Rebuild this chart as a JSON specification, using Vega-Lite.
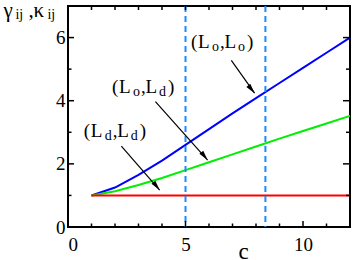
{
  "$schema": "https://vega.github.io/schema/vega-lite/v6.json",
  "width": 282,
  "height": 221,
  "autosize": {"type": "none"},
  "padding": {"left": 68, "top": 6, "right": 4, "bottom": 33},
  "config": {
    "view": {"stroke": "black", "strokeWidth": 2},
    "axis": {
      "domain": false,
      "grid": false,
      "ticks": false,
      "labelFont": "Liberation Serif",
      "labelFontSize": 19,
      "labelColor": "black",
      "titleFont": "Liberation Serif",
      "titleColor": "black",
      "titleFontWeight": "normal"
    },
    "text": {"font": "Liberation Serif", "fontSize": 19, "align": "left", "baseline": "alphabetic", "color": "black"},
    "tick": {"color": "black", "thickness": 1.5, "opacity": 1}
  },
  "datasets": {
    "curves": [
      {"series": "LoLo", "c": 1, "v": 1},
      {"series": "LoLo", "c": 2, "v": 1.25},
      {"series": "LoLo", "c": 3, "v": 1.65},
      {"series": "LoLo", "c": 4, "v": 2.1},
      {"series": "LoLo", "c": 5, "v": 2.6},
      {"series": "LoLo", "c": 6, "v": 3.1},
      {"series": "LoLo", "c": 7, "v": 3.6},
      {"series": "LoLo", "c": 8, "v": 4.08},
      {"series": "LoLo", "c": 9, "v": 4.56},
      {"series": "LoLo", "c": 10, "v": 5.04},
      {"series": "LoLo", "c": 11, "v": 5.52},
      {"series": "LoLo", "c": 12, "v": 6.0},
      {"series": "LoLd", "c": 1, "v": 1},
      {"series": "LoLd", "c": 2, "v": 1.13},
      {"series": "LoLd", "c": 3, "v": 1.33},
      {"series": "LoLd", "c": 4, "v": 1.55},
      {"series": "LoLd", "c": 5, "v": 1.8},
      {"series": "LoLd", "c": 6, "v": 2.05},
      {"series": "LoLd", "c": 7, "v": 2.3},
      {"series": "LoLd", "c": 8, "v": 2.55},
      {"series": "LoLd", "c": 9, "v": 2.8},
      {"series": "LoLd", "c": 10, "v": 3.04},
      {"series": "LoLd", "c": 11, "v": 3.28},
      {"series": "LoLd", "c": 12, "v": 3.52},
      {"series": "LdLd", "c": 1, "v": 1},
      {"series": "LdLd", "c": 12, "v": 1}
    ],
    "dashed": [{"c": 5}, {"c": 8.4}],
    "xmajor": [{"c": 5}, {"c": 10}],
    "xminor": [{"c": 1}, {"c": 2}, {"c": 3}, {"c": 4}, {"c": 6}, {"c": 7}, {"c": 8}, {"c": 9}, {"c": 11}],
    "ymajor": [{"v": 2}, {"v": 4}, {"v": 6}],
    "yminor": [{"v": 1}, {"v": 3}, {"v": 5}],
    "arrows": [
      {"x1": 6.95, "y1": 5.28, "x2": 7.94, "y2": 4.24},
      {"x1": 3.72, "y1": 3.97, "x2": 5.94, "y2": 2.12},
      {"x1": 2.27, "y1": 2.56, "x2": 3.9, "y2": 1.17}
    ],
    "labels": [
      {"x": 5.23, "y": 5.66, "s1": "o", "s2": "o"},
      {"x": 1.87, "y": 4.23, "s1": "o", "s2": "d"},
      {"x": 0.67, "y": 2.85, "s1": "d", "s2": "d"}
    ],
    "ytitle": [{"x": -2.75, "y": 6.66}]
  },
  "layer": [
    {
      "data": {"name": "curves"},
      "mark": {"type": "line", "strokeWidth": 2},
      "encoding": {
        "x": {
          "field": "c", "type": "quantitative",
          "scale": {"domain": [0, 12], "nice": false},
          "axis": {
            "orient": "bottom",
            "values": [0, 5, 10],
            "labelBaseline": "alphabetic",
            "labelPadding": 23,
            "title": "c",
            "titleFontSize": 23,
            "titleX": 175,
            "titleY": 31,
            "titleBaseline": "alphabetic",
            "titleAlign": "center"
          }
        },
        "y": {
          "field": "v", "type": "quantitative",
          "scale": {"domain": [0, 7], "nice": false},
          "axis": {
            "orient": "left",
            "values": [0, 2, 4, 6],
            "labelPadding": 3,
            "title": null
          }
        },
        "color": {
          "field": "series", "type": "nominal",
          "scale": {"domain": ["LoLo", "LoLd", "LdLd"], "range": ["#0000ff", "#00ee00", "#ff0000"]},
          "legend": null
        }
      }
    },
    {
      "data": {"name": "dashed"},
      "mark": {"type": "rule", "color": "#1a8cff", "strokeWidth": 2, "strokeDash": [6, 4]},
      "encoding": {
        "x": {"field": "c", "type": "quantitative", "scale": {"domain": [0, 12], "nice": false}}
      }
    },
    {
      "data": {"name": "xmajor"},
      "mark": {"type": "tick", "orient": "vertical", "size": 6, "yOffset": -3},
      "encoding": {
        "x": {"field": "c", "type": "quantitative", "scale": {"domain": [0, 12], "nice": false}},
        "y": {"datum": 0, "type": "quantitative", "scale": {"domain": [0, 7], "nice": false}}
      }
    },
    {
      "data": {"name": "xminor"},
      "mark": {"type": "tick", "orient": "vertical", "size": 3.5, "yOffset": -1.75},
      "encoding": {
        "x": {"field": "c", "type": "quantitative", "scale": {"domain": [0, 12], "nice": false}},
        "y": {"datum": 0, "type": "quantitative", "scale": {"domain": [0, 7], "nice": false}}
      }
    },
    {
      "data": {"name": "xmajor"},
      "mark": {"type": "tick", "orient": "vertical", "size": 4, "yOffset": 2},
      "encoding": {
        "x": {"field": "c", "type": "quantitative", "scale": {"domain": [0, 12], "nice": false}},
        "y": {"datum": 7, "type": "quantitative", "scale": {"domain": [0, 7], "nice": false}}
      }
    },
    {
      "data": {"name": "xminor"},
      "mark": {"type": "tick", "orient": "vertical", "size": 4, "yOffset": 2},
      "encoding": {
        "x": {"field": "c", "type": "quantitative", "scale": {"domain": [0, 12], "nice": false}},
        "y": {"datum": 7, "type": "quantitative", "scale": {"domain": [0, 7], "nice": false}}
      }
    },
    {
      "data": {"name": "ymajor"},
      "mark": {"type": "tick", "orient": "horizontal", "size": 6, "xOffset": 3},
      "encoding": {
        "x": {"datum": 0, "type": "quantitative", "scale": {"domain": [0, 12], "nice": false}},
        "y": {"field": "v", "type": "quantitative", "scale": {"domain": [0, 7], "nice": false}}
      }
    },
    {
      "data": {"name": "yminor"},
      "mark": {"type": "tick", "orient": "horizontal", "size": 3.5, "xOffset": 1.75},
      "encoding": {
        "x": {"datum": 0, "type": "quantitative", "scale": {"domain": [0, 12], "nice": false}},
        "y": {"field": "v", "type": "quantitative", "scale": {"domain": [0, 7], "nice": false}}
      }
    },
    {
      "data": {"name": "ymajor"},
      "mark": {"type": "tick", "orient": "horizontal", "size": 7, "xOffset": -3.5},
      "encoding": {
        "x": {"datum": 12, "type": "quantitative", "scale": {"domain": [0, 12], "nice": false}},
        "y": {"field": "v", "type": "quantitative", "scale": {"domain": [0, 7], "nice": false}}
      }
    },
    {
      "data": {"name": "yminor"},
      "mark": {"type": "tick", "orient": "horizontal", "size": 4, "xOffset": -2},
      "encoding": {
        "x": {"datum": 12, "type": "quantitative", "scale": {"domain": [0, 12], "nice": false}},
        "y": {"field": "v", "type": "quantitative", "scale": {"domain": [0, 7], "nice": false}}
      }
    },
    {
      "data": {"name": "arrows"},
      "mark": {"type": "rule", "color": "black", "strokeWidth": 1.2},
      "encoding": {
        "x": {"field": "x1", "type": "quantitative", "scale": {"domain": [0, 12], "nice": false}},
        "x2": {"field": "x2"},
        "y": {"field": "y1", "type": "quantitative", "scale": {"domain": [0, 7], "nice": false}},
        "y2": {"field": "y2"}
      }
    },
    {
      "data": {"name": "arrows"},
      "mark": {"type": "point", "shape": "M0,0L0.5,2L-0.5,2Z", "size": 100, "angle": 141, "filled": true, "color": "black", "opacity": 1},
      "encoding": {
        "x": {"field": "x2", "type": "quantitative", "scale": {"domain": [0, 12], "nice": false}},
        "y": {"field": "y2", "type": "quantitative", "scale": {"domain": [0, 7], "nice": false}}
      }
    },
    {
      "data": {"name": "labels"},
      "layer": [
        {"mark": {"type": "text", "text": "(", "dx": 0}},
        {"mark": {"type": "text", "text": "L", "dx": 7}},
        {"mark": {"type": "text", "dx": 21, "dy": 3, "fontSize": 14}, "encoding": {"text": {"field": "s1"}}},
        {"mark": {"type": "text", "text": ",", "dx": 29}},
        {"mark": {"type": "text", "text": "L", "dx": 33.5}},
        {"mark": {"type": "text", "dx": 47, "dy": 3, "fontSize": 14}, "encoding": {"text": {"field": "s2"}}},
        {"mark": {"type": "text", "text": ")", "dx": 56}}
      ],
      "encoding": {
        "x": {"field": "x", "type": "quantitative", "scale": {"domain": [0, 12], "nice": false}},
        "y": {"field": "y", "type": "quantitative", "scale": {"domain": [0, 7], "nice": false}}
      }
    },
    {
      "data": {"name": "ytitle"},
      "layer": [
        {"mark": {"type": "text", "text": "γ", "dx": 0, "fontSize": 21}},
        {"mark": {"type": "text", "text": "ij", "dx": 12, "dy": 2, "fontSize": 14}},
        {"mark": {"type": "text", "text": ",", "dx": 25, "fontSize": 21}},
        {"mark": {"type": "text", "text": "κ", "dx": 30, "fontSize": 21}},
        {"mark": {"type": "text", "text": "ij", "dx": 44, "dy": 2, "fontSize": 14}}
      ],
      "encoding": {
        "x": {"field": "x", "type": "quantitative", "scale": {"domain": [0, 12], "nice": false}},
        "y": {"field": "y", "type": "quantitative", "scale": {"domain": [0, 7], "nice": false}}
      }
    }
  ]
}
